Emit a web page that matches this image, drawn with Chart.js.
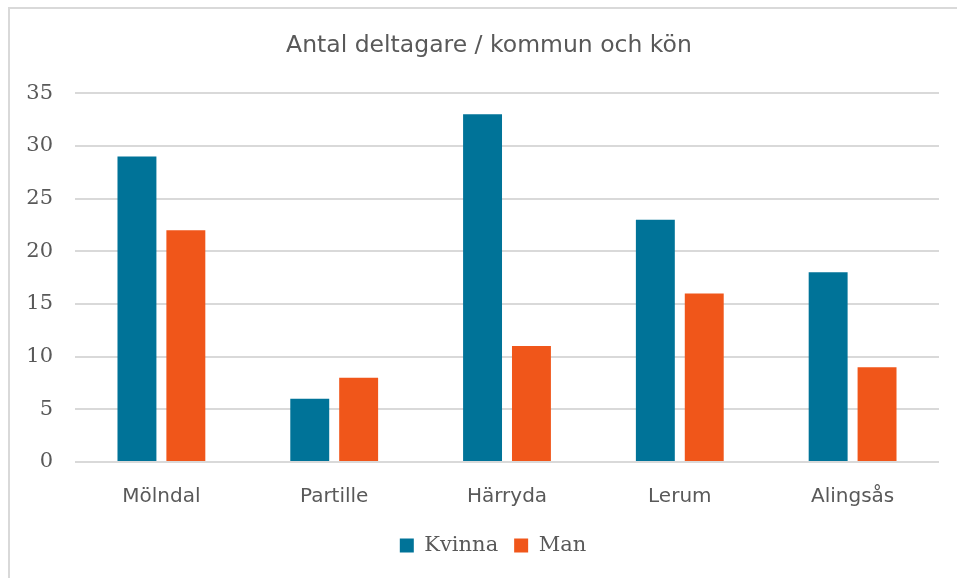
<!DOCTYPE html>
<html><head><meta charset="utf-8">
<script src="https://cdn.jsdelivr.net/npm/chart.js@4/dist/chart.umd.min.js"></script>
<style>
html,body{margin:0;padding:0;background:#fff;overflow:hidden;width:957px;height:578px;}
#frame{position:absolute;left:8px;top:7px;width:1200px;height:800px;border:2px solid #d9d9d9;box-sizing:border-box;}
#wrap{position:absolute;left:8px;top:0;width:962px;height:578px;}
</style></head><body>
<div id="frame"></div>
<div id="wrap"><canvas id="c" width="962" height="578"></canvas></div>
<script>
const chartTitle = 'Antal deltagare / kommun och kön';
const categories = ['Mölndal', 'Partille', 'Härryda', 'Lerum', 'Alingsås'];
const seriesNames = ['Kvinna', 'Man'];
const kvinna = [29, 6, 33, 23, 18];
const man = [22, 8, 11, 16, 9];
const yMin = 0, yMax = 35, yStep = 5;

const gray = '#595959';
const recenter = {
  id: 'recenter',
  afterLayout(chart) {
    if (chart.titleBlock) { chart.titleBlock.left = 0; chart.titleBlock.right = chart.width; }
    if (chart.legend) { chart.legend.left = 0; chart.legend.right = chart.width + 8; }
  }
};
new Chart(document.getElementById('c'), {
  type: 'bar',
  data: {
    labels: categories,
    datasets: [
      { label: seriesNames[0], data: kvinna, backgroundColor: '#007398', categoryPercentage: 0.566, barPercentage: 0.796 },
      { label: seriesNames[1], data: man, backgroundColor: '#F0561A', categoryPercentage: 0.566, barPercentage: 0.796 }
    ]
  },
  plugins: [recenter],
  options: {
    responsive: false,
    animation: false,
    devicePixelRatio: 1,
    layout: { padding: { left: 0, right: 31, top: 0, bottom: 12 } },
    plugins: {
      title: {
        display: true, text: chartTitle, color: gray,
        font: { family: 'DejaVu Sans', size: 23.5, weight: 'normal', lineHeight: 1.2 },
        padding: { top: 32, bottom: 33 }
      },
      legend: {
        position: 'bottom',
        labels: {
          color: gray, boxWidth: 14, boxHeight: 14, padding: 16,
          font: { family: 'DejaVu Serif', size: 21 }
        }
      },
      tooltip: { enabled: false }
    },
    scales: {
      x: {
        grid: { display: false },
        border: { display: false },
        ticks: { color: gray, padding: 15, font: { family: 'DejaVu Sans', size: 20 } },
        afterFit: (s) => { s.height = 57; }
      },
      y: {
        min: yMin, max: yMax,
        grid: { color: '#d9d9d9', lineWidth: 2, drawTicks: false },
        border: { display: false },
        ticks: { stepSize: yStep, color: gray, padding: 22, font: { family: 'DejaVu Serif', size: 21 } },
        afterFit: (s) => { s.width = 67; }
      }
    }
  }
});
</script>
</body></html>
